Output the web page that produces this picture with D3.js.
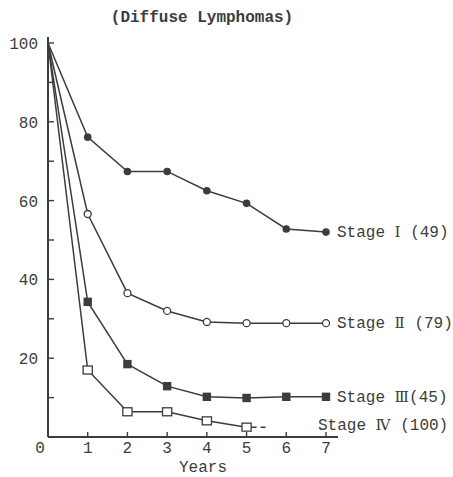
<!DOCTYPE html>
<html>
<head>
<meta charset="utf-8">
<script src="https://cdn.jsdelivr.net/npm/d3@7"></script>
<style>
  html, body { margin: 0; padding: 0; background: #fff; }
  svg { display: block; }
  text { font-family: "Liberation Mono", "DejaVu Sans Mono", monospace; fill: #3c3c3c; }
  .roman { font-family: "DejaVu Serif", "Liberation Serif", serif; }
</style>
</head>
<body>
<svg id="chart" width="453" height="477"></svg>
<script>
// Survival (%) by year since diagnosis, diffuse lymphomas, per stage
const years = [0, 1, 2, 3, 4, 5, 6, 7];
const stageI   = [100, 76.1, 67.4, 67.4, 62.5, 59.3, 52.8, 52.0];
const stageII  = [100, 56.6, 36.5, 32.0, 29.2, 28.9, 28.9, 28.9];
const stageIII = [100, 34.3, 18.5, 12.9, 10.2, 9.9, 10.2, 10.2];
const stageIV  = [100, 17.0, 6.4, 6.4, 4.1, 2.5];
const stageNumerals = ["\u2160", "\u2161", "\u2162", "\u2163"];
const stageCounts = [" (49)", " (79)", "(45)", " (100)"];
const stageIVDashEnd = 5.5;            // dashed continuation of stage IV
const yTicks = [0, 20, 40, 60, 80, 100];
const yMinorTicks = [10, 30, 50, 70, 90];
const xTicks = [1, 2, 3, 4, 5, 6, 7];
const title = "(Diffuse Lymphomas)";
const xTitle = "Years";

const svg = d3.select("#chart");
const ink = "#3c3c3c";

const x = d3.scaleLinear().domain([0, 7]).range([48, 326]);
const y = d3.scaleLinear().domain([0, 100]).range([437, 43]);

// Axes
const g = svg.append("g");
g.append("line").attr("x1", x(0)).attr("x2", 338).attr("y1", y(0)).attr("y2", y(0))
  .attr("stroke", ink).attr("stroke-width", 2);
g.append("line").attr("x1", x(0)).attr("x2", x(0)).attr("y1", y(0)).attr("y2", 37)
  .attr("stroke", ink).attr("stroke-width", 2);

// y ticks point into the plot
g.selectAll(".ytick").data(yTicks.filter(d => d > 0).concat(yMinorTicks)).join("line")
  .attr("x1", x(0)).attr("x2", x(0) + 6)
  .attr("y1", d => y(d)).attr("y2", d => y(d))
  .attr("stroke", ink).attr("stroke-width", 1.4);
g.selectAll(".ylab").data(yTicks.filter(d => d > 0)).join("text")
  .attr("x", 38).attr("y", d => y(d) + 6)
  .attr("text-anchor", "end").attr("font-size", 16)
  .text(d => d);

// x ticks
g.selectAll(".xtick").data(xTicks).join("line")
  .attr("x1", d => x(d)).attr("x2", d => x(d))
  .attr("y1", y(0)).attr("y2", y(0) - 5)
  .attr("stroke", ink).attr("stroke-width", 1.4);
g.selectAll(".xlab").data([0].concat(xTicks)).join("text")
  .attr("x", d => d === 0 ? 40 : x(d)).attr("y", 453)
  .attr("text-anchor", "middle").attr("font-size", 16)
  .text(d => d);

svg.append("text").attr("x", 203).attr("y", 472).attr("text-anchor", "middle")
  .attr("font-size", 16).text(xTitle);
svg.append("text").attr("x", 202).attr("y", 22).attr("text-anchor", "middle")
  .attr("font-size", 16).attr("font-weight", "bold").text(title);

// Series
const series = [stageI, stageII, stageIII, stageIV];
const line = d3.line().x((d, i) => x(years[i])).y(d => y(d));

series.forEach(s => {
  svg.append("path").datum(s).attr("d", line)
    .attr("fill", "none").attr("stroke", ink).attr("stroke-width", 1.5);
});

// dashed tail after the last stage IV point
const lastIV = stageIV[stageIV.length - 1];
svg.append("line")
  .attr("x1", x(years[stageIV.length - 1]) + 5).attr("x2", x(stageIVDashEnd))
  .attr("y1", y(lastIV)).attr("y2", y(lastIV))
  .attr("stroke", ink).attr("stroke-width", 1.5).attr("stroke-dasharray", "5,4");

const pts = s => s.slice(1).map((v, i) => ({ yr: years[i + 1], v }));

// Stage I: filled circles
svg.selectAll(".s1").data(pts(stageI)).join("circle")
  .attr("cx", d => x(d.yr)).attr("cy", d => y(d.v)).attr("r", 3.8)
  .attr("fill", ink);
// Stage II: open circles
svg.selectAll(".s2").data(pts(stageII)).join("circle")
  .attr("cx", d => x(d.yr)).attr("cy", d => y(d.v)).attr("r", 3.5)
  .attr("fill", "#fff").attr("stroke", ink).attr("stroke-width", 1.3);
// Stage III: filled squares
svg.selectAll(".s3").data(pts(stageIII)).join("rect")
  .attr("x", d => x(d.yr) - 4.2).attr("y", d => y(d.v) - 4.2)
  .attr("width", 8.4).attr("height", 8.4).attr("fill", ink);
// Stage IV: open squares
svg.selectAll(".s4").data(pts(stageIV)).join("rect")
  .attr("x", d => x(d.yr) - 4.6).attr("y", d => y(d.v) - 4)
  .attr("width", 9.2).attr("height", 8)
  .attr("fill", "#fff").attr("stroke", ink).attr("stroke-width", 1.3);

// Stage labels at the end of each curve
const labelPos = [
  { dx: 11, dy: 5 },
  { dx: 11, dy: 5 },
  { dx: 11, dy: 5 },
  { dx: -8, dy: 3 }
];
series.forEach((s, i) => {
  const last = s[s.length - 1];
  const t = svg.append("text")
    .attr("x", x(7) + labelPos[i].dx)
    .attr("y", y(last) + labelPos[i].dy)
    .attr("font-size", 16);
  t.append("tspan").text("Stage ");
  t.append("tspan").attr("class", "roman").attr("font-size", 15).text(stageNumerals[i]);
  t.append("tspan").text(stageCounts[i]);
});
</script>
</body>
</html>
